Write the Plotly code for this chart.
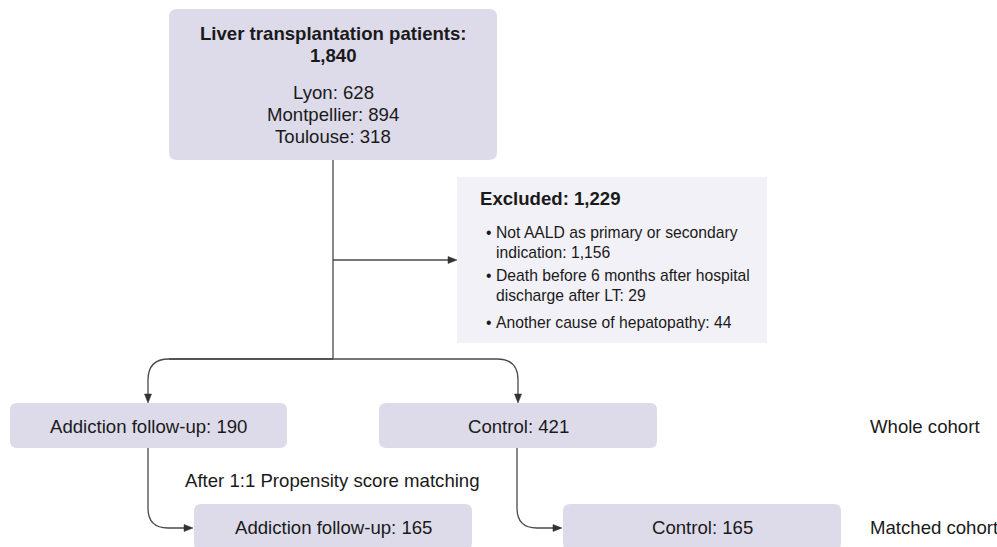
import plotly.graph_objects as go

# ---------------- data ----------------
total_title = "Liver transplantation patients:"
total_n = 1840
sites = ["Lyon", "Montpellier", "Toulouse"]
site_n = [628, 894, 318]
excluded_n = 1229
excl_reasons = [["Not AALD as primary or secondary", "indication"],
                ["Death before 6 months after hospital", "discharge after LT"],
                ["Another cause of hepatopathy"]]
excl_n = [1156, 29, 44]
groups = ["Addiction follow-up", "Control"]
whole_n = [190, 421]
matched_n = [165, 165]
row_labels = ["Whole cohort", "Matched cohort"]
matching_label = "After 1:1 Propensity score matching"

# ---------------- style / layout ----------------
W, H = 997, 547
FONT = "Arial, Liberation Sans, sans-serif"
TXT = "#1a1a1a"
BOX = "#dddbea"
BOX_LIGHT = "#f2f1f7"
LINE = "#4a4a4a"
ARROW = "#333333"
FS = 18.6
FS_SMALL = 15.7

shapes = []
annotations = []


def rrect(x0, y0, x1, y1, r, fill):
    p = (f"M {x0+r},{y0} L {x1-r},{y0} Q {x1},{y0} {x1},{y0+r} "
         f"L {x1},{y1-r} Q {x1},{y1} {x1-r},{y1} L {x0+r},{y1} "
         f"Q {x0},{y1} {x0},{y1-r} L {x0},{y0+r} Q {x0},{y0} {x0+r},{y0} Z")
    shapes.append(dict(type="path", path=p, xref="x", yref="y",
                       fillcolor=fill, line=dict(width=0), layer="below"))


def path(p, color=LINE, width=1.3):
    shapes.append(dict(type="path", path=p, xref="x", yref="y",
                       line=dict(color=color, width=width)))


def arrowhead(x, y, direction, L=9, w=3.5):
    if direction == "down":
        p = f"M {x},{y} L {x-w},{y-L} L {x+w},{y-L} Z"
    else:  # right
        p = f"M {x},{y} L {x-L},{y-w} L {x-L},{y+w} Z"
    shapes.append(dict(type="path", path=p, xref="x", yref="y",
                       fillcolor=ARROW, line=dict(color=ARROW, width=0.5)))


def text(x, y, s, size=FS, bold=False, xanchor="center"):
    if bold:
        s = f"<b>{s}</b>"
    annotations.append(dict(x=x, y=y, xref="x", yref="y", text=s,
                            showarrow=False, xanchor=xanchor, yanchor="middle",
                            font=dict(family=FONT, size=size, color=TXT)))


fmt = lambda n: f"{n:,}"

# top box
rrect(169, 9, 497, 160, 8, BOX)
cx = 333
text(cx, 33, total_title, bold=True)
text(cx, 55, fmt(total_n), bold=True)
for i, (s, n) in enumerate(zip(sites, site_n)):
    text(cx, 92 + i * 22, f"{s}: {n}")

# excluded box
rrect(457, 177, 767, 343, 0.01, BOX_LIGHT)
text(478, 198, f"Excluded: {fmt(excluded_n)}", bold=True, xanchor="left")
ys = [[232, 252], [275, 295], [322]]
for lines, yl, n in zip(excl_reasons, ys, excl_n):
    text(489, yl[0], "•", size=FS_SMALL)
    for k, (ln, yy) in enumerate(zip(lines, yl)):
        s = ln + (f": {fmt(n)}" if k == len(lines) - 1 else "")
        text(494, yy, s, size=FS_SMALL, xanchor="left")

# connectors from top box
path(f"M {cx},160 L {cx},359")
path(f"M {cx},260 L 450,260")
arrowhead(457, 260, "right")
r = 21
xl, xr = 148, 518
path(f"M {xl+r},359 L {xr-r},359 Q {xr},359 {xr},{359+r} L {xr},398")
path(f"M {cx},359 L {xl+r},359 Q {xl},359 {xl},{359+r} L {xl},398")
arrowhead(xl, 403, "down")
arrowhead(xr, 403, "down")

# whole cohort boxes
mid_boxes = [(10, 287), (379, 657)]
for (x0, x1), g, n in zip(mid_boxes, groups, whole_n):
    rrect(x0, 403, x1, 448, 7, BOX)
    text((x0 + x1) / 2, 426, f"{g}: {n}")

# matched boxes
bot_boxes = [(194, 472), (563, 841)]
for (x0, x1), g, n in zip(bot_boxes, groups, matched_n):
    rrect(x0, 504, x1, 550, 7, BOX)
    text((x0 + x1) / 2, 527, f"{g}: {n}")

# curved connectors to matched boxes
for xv, (bx0, _) in zip([148, 517], bot_boxes):
    rr = 20
    path(f"M {xv},448 L {xv},{528-rr} Q {xv},528 {xv+rr},528 L {bx0-6},528")
    arrowhead(bx0 - 1, 528, "right")

text(183, 480, matching_label, xanchor="left")
text(868, 426, row_labels[0], xanchor="left")
text(868, 527, row_labels[1], xanchor="left")

fig = go.Figure()
fig.add_trace(go.Scatter(x=[0, W], y=[0, H], mode="markers",
                         marker=dict(opacity=0), hoverinfo="skip",
                         showlegend=False))
fig.update_layout(
    width=W, height=H, margin=dict(l=0, r=0, t=0, b=0),
    paper_bgcolor="white", plot_bgcolor="white",
    xaxis=dict(range=[0, W], visible=False, fixedrange=True),
    yaxis=dict(range=[H, 0], visible=False, fixedrange=True),
    shapes=shapes, annotations=annotations, showlegend=False,
)
fig.write_html("out.html", config={"displayModeBar": False},
               post_script="document.body.style.margin='0';"
                           "document.body.style.overflow='hidden';")
